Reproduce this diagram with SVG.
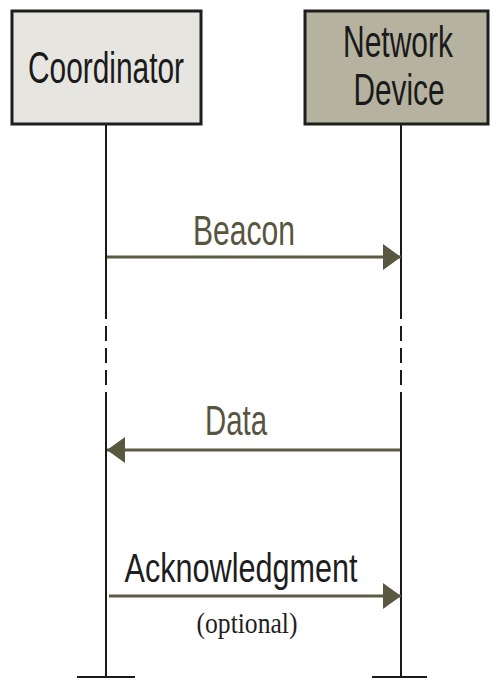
<svg xmlns="http://www.w3.org/2000/svg" width="491" height="678" viewBox="0 0 491 678">
  <style>
    .box { stroke: #1e1e1e; stroke-width: 3; }
    .title { font-family: "Liberation Sans", Arial, sans-serif; font-size: 44px; fill: #1a1a1a; }
    .life { stroke: #1a1a1a; stroke-width: 2; fill: none; }
    .dash { stroke-dasharray: 15 7; }
    .msg { stroke: #5e5b45; stroke-width: 3; fill: none; }
    .label { font-family: "Liberation Sans", Arial, sans-serif; font-size: 42px; fill: #57553f; }
    .ack { font-family: "Liberation Sans", Arial, sans-serif; font-size: 40px; fill: #1e1e1e; }
    .note { font-family: "Liberation Serif", "Times New Roman", serif; font-size: 30px; fill: #1e1e1e; }
  </style>
  <defs>
    <marker id="head" viewBox="0 0 18 26" refX="18" refY="13" markerWidth="18" markerHeight="26" markerUnits="userSpaceOnUse" orient="auto">
      <path d="M0,0 L18,13 L0,26 Z" fill="#5a5740"/>
    </marker>
  </defs>

  <rect width="491" height="678" fill="#ffffff"/>

  <!-- lifelines with the dashed stretch between messages -->
  <g id="lifelines">
    <path class="life" d="M106,124 V304 M106,400 V677"/>
    <path class="life dash" d="M106,304 V400"/>
    <path class="life" d="M77,677 H135"/>
    <path class="life" d="M401,124 V304 M401,400 V677"/>
    <path class="life dash" d="M401,304 V400"/>
    <path class="life" d="M372,677 H427"/>
  </g>

  <g id="coordinator">
    <rect class="box" x="12" y="11" width="189" height="113" fill="#e6e5e0"/>
    <text class="title" x="106" y="83" text-anchor="middle" textLength="156" lengthAdjust="spacingAndGlyphs">Coordinator</text>
  </g>

  <g id="network-device">
    <rect class="box" x="305" y="11" width="183" height="113" fill="#b5b3a0"/>
    <text class="title" x="398" y="57" font-size="42" text-anchor="middle" textLength="110" lengthAdjust="spacingAndGlyphs">Network</text>
    <text class="title" x="399" y="105" font-size="42" text-anchor="middle" textLength="91" lengthAdjust="spacingAndGlyphs">Device</text>
  </g>

  <!-- messages -->
  <g id="connectors">
    <g id="beacon">
      <line class="msg" x1="107" y1="257" x2="401" y2="257" marker-end="url(#head)"/>
      <text class="label" x="244" y="245" text-anchor="middle" textLength="102" lengthAdjust="spacingAndGlyphs">Beacon</text>
    </g>
    <g id="data">
      <line class="msg" x1="400" y1="450" x2="107" y2="450" marker-end="url(#head)"/>
      <text class="label" x="236" y="435" text-anchor="middle" textLength="62" lengthAdjust="spacingAndGlyphs">Data</text>
    </g>
    <g id="acknowledgment">
      <line class="msg" x1="109" y1="596" x2="401" y2="596" marker-end="url(#head)"/>
      <text class="ack" x="241" y="582" text-anchor="middle" textLength="233" lengthAdjust="spacingAndGlyphs">Acknowledgment</text>
      <text class="note" x="247" y="633" text-anchor="middle" textLength="101" lengthAdjust="spacingAndGlyphs">(optional)</text>
    </g>
  </g>
</svg>
